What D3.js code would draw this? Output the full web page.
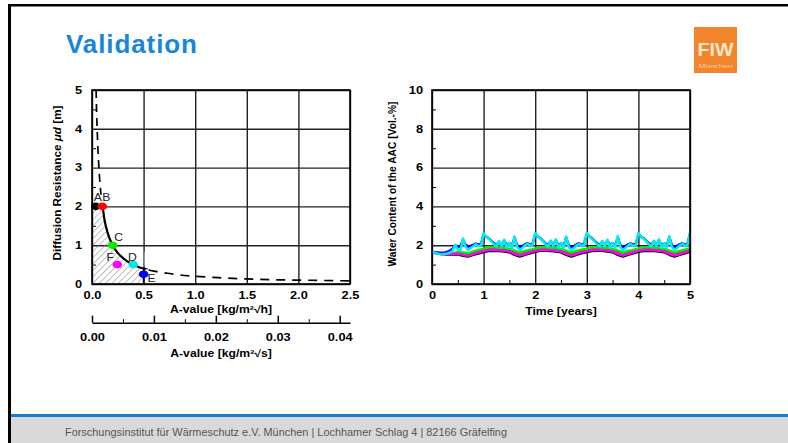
<!DOCTYPE html>
<html>
<head>
<meta charset="utf-8">
<script src="https://cdn.jsdelivr.net/npm/d3@7"></script>
<style>
body { margin: 0; background: #fff; }
svg text { font-family: "Liberation Sans", Arial, sans-serif; }
</style>
</head>
<body>
<div id="slide"></div>
<script>
// ---- datos del grafico izquierdo (criterio A-valor / sd) ----
var aTicks = [0, 0.5, 1, 1.5, 2, 2.5]
var muTicks = [0, 1, 2, 3, 4, 5]
var muMinor = [0.5, 1.5, 2.5, 3.5, 4.5]
var aSecTicks = [0, 0.01, 0.02, 0.03, 0.04]
var aSecMinor = [0.005, 0.015, 0.025, 0.035]
var hPerS = 60 // sqrt(3600)

var critUpper = [[0.04, 5], [0.044, 4.5], [0.05, 4], [0.057, 3.5], [0.067, 3], [0.08, 2.5], [0.087, 2.3]]
var critSolid = [[0, 2], [0.1, 2], [0.12, 1.67], [0.15, 1.33], [0.2, 1], [0.25, 0.8], [0.3, 0.67], [0.35, 0.57], [0.4, 0.5], [0.45, 0.44], [0.5, 0.4], [0.55, 0.36]]
var critLower = [[0.55, 0.36], [0.6, 0.33], [0.7, 0.29], [0.8, 0.25], [1.0, 0.2], [1.25, 0.16], [1.5, 0.13], [1.75, 0.11], [2.0, 0.1], [2.25, 0.09], [2.5, 0.08]]
var hatchLimit = 0.5

var caseNames = ['A', 'B', 'C', 'D', 'E', 'F']
var caseA = [0.036, 0.1, 0.2, 0.4, 0.5, 0.245]
var caseMu = [2, 2, 1, 0.5, 0.25, 0.5]
var caseColors = ['#000000', '#ff0000', '#00ee00', '#00e8e8', '#0000ff', '#ff00ff']

// ---- datos del grafico derecho (contenido de agua) ----
var yearTicks = [0, 1, 2, 3, 4, 5]
var yearMinor = [0.5, 1.5, 2.5, 3.5, 4.5]
var wcTicks = [0, 2, 4, 6, 8, 10]
var wcMinor = [1, 3, 5, 7, 9]
var stepFine = 0.05
var stepCoarse = 0.1

var wcBlack = [1.63, 1.58, 1.53, 1.52, 1.52, 1.53, 1.46, 1.42, 1.50, 1.57,
  1.65, 1.70, 1.72, 1.70, 1.68, 1.64, 1.50, 1.42, 1.50, 1.58,
  1.66, 1.71, 1.72, 1.70, 1.68, 1.63, 1.50, 1.42, 1.51, 1.58,
  1.65, 1.70, 1.72, 1.71, 1.68, 1.64, 1.50, 1.42, 1.50, 1.58,
  1.66, 1.70, 1.72, 1.70, 1.68, 1.64, 1.51, 1.42, 1.50, 1.58, 1.66]
var wcRed = [1.65, 1.60, 1.55, 1.55, 1.56, 1.60, 1.55, 1.50, 1.60, 1.66,
  1.74, 1.80, 1.80, 1.78, 1.76, 1.73, 1.62, 1.52, 1.60, 1.68,
  1.75, 1.80, 1.81, 1.78, 1.76, 1.72, 1.62, 1.52, 1.61, 1.68,
  1.74, 1.80, 1.80, 1.79, 1.76, 1.73, 1.62, 1.52, 1.60, 1.68,
  1.75, 1.80, 1.80, 1.78, 1.76, 1.73, 1.62, 1.52, 1.60, 1.68, 1.77]
var wcGreen = [1.66, 1.62, 1.57, 1.57, 1.58, 1.65, 1.62, 1.58, 1.68, 1.75,
  1.82, 1.88, 1.88, 1.86, 1.84, 1.82, 1.72, 1.62, 1.70, 1.76,
  1.83, 1.88, 1.89, 1.86, 1.84, 1.81, 1.72, 1.62, 1.70, 1.77,
  1.82, 1.88, 1.88, 1.86, 1.85, 1.82, 1.72, 1.61, 1.70, 1.76,
  1.83, 1.88, 1.88, 1.87, 1.84, 1.82, 1.72, 1.62, 1.70, 1.77, 1.84]
var wcMagenta = [1.64, 1.60, 1.55, 1.54, 1.55, 1.57, 1.50, 1.45, 1.54, 1.62,
  1.70, 1.75, 1.76, 1.74, 1.72, 1.68, 1.56, 1.47, 1.55, 1.63,
  1.71, 1.75, 1.76, 1.74, 1.72, 1.67, 1.56, 1.47, 1.56, 1.63,
  1.70, 1.75, 1.76, 1.75, 1.72, 1.68, 1.56, 1.46, 1.55, 1.63,
  1.71, 1.75, 1.76, 1.74, 1.72, 1.68, 1.56, 1.47, 1.55, 1.63, 1.72]
var wcBlue = [1.66, 1.64, 1.62, 1.61, 1.61, 1.63, 1.66, 1.72, 1.82, 2.00, 1.92, 1.95, 2.28, 2.02, 1.92, 1.96, 2.02, 2.08, 2.03, 2.06,
  2.55, 2.45, 2.35, 2.22, 2.10, 2.02, 2.18, 2.00, 2.24, 1.98, 2.10, 1.96, 2.38, 2.00, 1.90, 1.95, 2.04, 2.10, 2.02, 2.07,
  2.56, 2.45, 2.36, 2.22, 2.09, 2.01, 2.20, 2.00, 2.25, 1.97, 2.09, 1.95, 2.38, 2.00, 1.90, 1.95, 2.04, 2.10, 2.02, 2.07,
  2.57, 2.46, 2.35, 2.22, 2.10, 2.02, 2.18, 1.99, 2.24, 1.98, 2.10, 1.96, 2.40, 2.00, 1.89, 1.96, 2.04, 2.09, 2.03, 2.07,
  2.56, 2.45, 2.36, 2.23, 2.10, 2.02, 2.19, 2.00, 2.25, 1.98, 2.09, 1.96, 2.39, 2.00, 1.90, 1.96, 2.04, 2.10, 2.02, 2.07, 2.58]
var wcCyan = [1.65, 1.62, 1.58, 1.54, 1.52, 1.55, 1.58, 1.62, 1.72, 2.02, 1.78, 1.74, 2.35, 1.92, 1.76, 1.85, 1.95, 2.05, 1.95, 2.00,
  2.62, 2.45, 2.33, 2.20, 2.05, 1.95, 2.22, 1.95, 2.28, 1.88, 2.12, 1.85, 2.45, 1.90, 1.76, 1.86, 1.98, 2.08, 1.96, 2.02,
  2.62, 2.46, 2.34, 2.20, 2.04, 1.94, 2.24, 1.95, 2.30, 1.88, 2.10, 1.84, 2.45, 1.90, 1.76, 1.85, 1.98, 2.08, 1.95, 2.02,
  2.64, 2.46, 2.33, 2.20, 2.05, 1.95, 2.22, 1.94, 2.28, 1.88, 2.12, 1.85, 2.47, 1.90, 1.75, 1.86, 1.98, 2.07, 1.96, 2.02,
  2.63, 2.45, 2.34, 2.21, 2.05, 1.95, 2.23, 1.95, 2.30, 1.88, 2.10, 1.85, 2.46, 1.90, 1.76, 1.86, 1.98, 2.08, 1.95, 2.02, 2.65]

var seriesList = [
  {values: wcBlack, step: stepCoarse, color: '#000000'},
  {values: wcRed, step: stepCoarse, color: '#ff0000'},
  {values: wcGreen, step: stepCoarse, color: '#00ee00'},
  {values: wcMagenta, step: stepCoarse, color: '#ff00ff'},
  {values: wcBlue, step: stepFine, color: '#0000ff'},
  {values: wcCyan, step: stepFine, color: '#00eeee'}
]

// ---- lienzo ----
var W = 788, H = 443
var SX = 1.22 // los graficos estan estirados en horizontal

var svg = d3.select('#slide').append('svg')
  .attr('width', W)
  .attr('height', H)

svg.append('rect').attr('width', W).attr('height', H).attr('fill', '#fff')

// pie de pagina
svg.append('rect').attr('x', 10).attr('y', 417).attr('width', W - 10).attr('height', H - 417).attr('fill', '#d9d9d9')
svg.append('rect').attr('x', 10).attr('y', 414).attr('width', W - 10).attr('height', 3).attr('fill', '#1b7bd0')
svg.append('text')
  .attr('x', 65).attr('y', 436)
  .attr('font-size', 10)
  .attr('fill', '#555')
  .attr('textLength', 442)
  .attr('lengthAdjust', 'spacingAndGlyphs')
  .text('Forschungsinstitut für Wärmeschutz e.V. München | Lochhamer Schlag 4 | 82166 Gräfelfing')

// marco negro
svg.append('line').attr('x1', 9.5).attr('x2', 9.5).attr('y1', 4).attr('y2', H).attr('stroke', '#000').attr('stroke-width', 3)
svg.append('line').attr('x1', 8).attr('x2', W).attr('y1', 5.3).attr('y2', 5.3).attr('stroke', '#000').attr('stroke-width', 2.5)

// titulo
svg.append('text')
  .attr('x', 66).attr('y', 53)
  .attr('font-size', 26)
  .attr('font-weight', 'bold')
  .attr('fill', '#1a86d8')
  .attr('textLength', 131)
  .attr('lengthAdjust', 'spacing')
  .text('Validation')

// logo
var logo = svg.append('g').attr('transform', 'translate(694,27)')
logo.append('rect').attr('width', 43).attr('height', 46).attr('fill', '#f2842a')
logo.append('text').attr('x', 21.5).attr('y', 29).attr('text-anchor', 'middle')
  .attr('font-size', 18).attr('font-weight', 'bold').attr('fill', '#fde6cf')
  .attr('textLength', 36).attr('lengthAdjust', 'spacingAndGlyphs')
  .text('FIW')
logo.append('text').attr('x', 21.5).attr('y', 41).attr('text-anchor', 'middle')
  .attr('font-size', 6).attr('fill', '#fbd3ad').attr('textLength', 34).attr('lengthAdjust', 'spacingAndGlyphs')
  .text('München')

// estira el texto de los ejes
function stretchTicks(axisG, isLeft, pad) {
  axisG.selectAll('text')
    .attr('font-size', 10.5)
    .attr('font-weight', 'bold')
    .attr('fill', '#000')
    .attr('font-family', '"Liberation Sans", Arial, sans-serif')
    .attr('transform', 'scale(' + SX + ',1)')
  if (isLeft) axisG.selectAll('text').attr('x', -pad / SX)
  axisG.select('.domain').remove()
}

function stretchLabel(g, x, y, str) {
  return g.append('text')
    .attr('transform', 'translate(' + x + ',' + y + ') scale(' + SX + ',1)')
    .attr('text-anchor', 'middle')
    .attr('font-size', 10)
    .attr('font-weight', 'bold')
    .text(str)
}

// ============ grafico izquierdo ============
var L = {x0: 92, x1: 350, y0: 284, y1: 90}
var xL = d3.scaleLinear().domain([0, 2.5]).range([L.x0, L.x1])
var yL = d3.scaleLinear().domain([0, 5]).range([L.y0, L.y1])
var xS = d3.scaleLinear().domain([0, 2.5 / hPerS]).range([L.x0, L.x1])

var left = svg.append('g')

// rejilla
left.append('g')
  .attr('transform', 'translate(0,' + L.y0 + ')')
  .call(d3.axisBottom(xL).tickValues(aTicks).tickSize(-(L.y0 - L.y1)).tickFormat(''))
  .call(g => g.select('.domain').remove())
  .selectAll('line').attr('stroke', '#222').attr('stroke-width', 1.4)
left.append('g')
  .attr('transform', 'translate(' + L.x0 + ',0)')
  .call(d3.axisLeft(yL).tickValues(muTicks).tickSize(-(L.x1 - L.x0)).tickFormat(''))
  .call(g => g.select('.domain').remove())
  .selectAll('line').attr('stroke', '#222').attr('stroke-width', 1.4)
left.append('g')
  .attr('transform', 'translate(' + L.x0 + ',0)')
  .call(d3.axisLeft(yL).tickValues(muMinor).tickSize(-4).tickFormat(''))
  .call(g => g.select('.domain').remove())
  .selectAll('line').attr('stroke', '#000')

// zona rayada
var defs = svg.append('defs')
var pat = defs.append('pattern')
  .attr('id', 'hatch')
  .attr('patternUnits', 'userSpaceOnUse')
  .attr('width', 4.5).attr('height', 4.5)
  .attr('patternTransform', 'rotate(45)')
pat.append('line').attr('x1', 0).attr('y1', 0).attr('x2', 0).attr('y2', 4.5)
  .attr('stroke', '#8a8a8a').attr('stroke-width', 1.1)

var hatchPts = critSolid.filter(d => d[0] <= hatchLimit)
var hatchArea = d3.area()
  .x(d => xL(d[0]))
  .y0(yL(0))
  .y1(d => yL(d[1]))
  .curve(d3.curveMonotoneX)
left.append('path')
  .datum(hatchPts)
  .attr('d', hatchArea)
  .attr('fill', 'url(#hatch)')
left.append('line')
  .attr('x1', xL(hatchLimit)).attr('x2', xL(hatchLimit))
  .attr('y1', yL(0)).attr('y2', yL(0.4))
  .attr('stroke', '#000').attr('stroke-width', 1.6)

var critLine = d3.line()
  .x(d => xL(d[0]))
  .y(d => yL(d[1]))
  .curve(d3.curveMonotoneX)

left.append('path').datum(critSolid).attr('d', critLine)
  .attr('fill', 'none').attr('stroke', '#000').attr('stroke-width', 2.2)

// fondos blancos de las etiquetas D y E
left.append('rect').attr('x', xL(0.5) + 2).attr('y', yL(0.25) - 5).attr('width', 10).attr('height', 11).attr('fill', '#fff')
left.append('rect').attr('x', xL(0.5) + 1).attr('y', yL(0.75) - 3).attr('width', 4).attr('height', 14).attr('fill', '#fff')

var critDashed = d3.line()
  .x(d => xL(d[0]))
  .y(d => yL(d[1]))
  .curve(d3.curveMonotoneY)
left.append('path').datum(critUpper).attr('d', critDashed)
  .attr('fill', 'none').attr('stroke', '#000').attr('stroke-width', 1.7).attr('stroke-dasharray', '8,6')
left.append('path').datum(critLower).attr('d', critLine)
  .attr('fill', 'none').attr('stroke', '#000').attr('stroke-width', 1.7).attr('stroke-dasharray', '9,7')

// puntos de los casos
var cases = caseNames.map((n, i) => ({name: n, a: caseA[i], mu: caseMu[i], color: caseColors[i]}))
left.selectAll('ellipse.case')
  .data(cases)
  .enter()
  .append('ellipse')
  .attr('class', 'case')
  .attr('cx', d => xL(d.a))
  .attr('cy', d => yL(d.mu))
  .attr('rx', 4.8)
  .attr('ry', 3.8)
  .attr('fill', d => d.color)

// posicion de las etiquetas relativa al punto
var labelOffset = {A: [2, -9], B: [4, -9], C: [6, -8], D: [-1, -8], E: [8, 4], F: [-7, -8]}
left.selectAll('text.caselabel')
  .data(cases)
  .enter()
  .append('text')
  .attr('class', 'caselabel')
  .attr('transform', d => 'translate(' + (xL(d.a) + labelOffset[d.name][0]) + ',' + (yL(d.mu) + labelOffset[d.name][1] + 4) + ') scale(' + SX + ',1)')
  .attr('text-anchor', 'middle')
  .attr('font-size', 10)
  .attr('fill', '#222')
  .text(d => d.name)

// marco
left.append('rect')
  .attr('x', L.x0).attr('y', L.y1)
  .attr('width', L.x1 - L.x0).attr('height', L.y0 - L.y1)
  .attr('fill', 'none').attr('stroke', '#000').attr('stroke-width', 1.6)

// etiquetas de los ejes
var lxAxis = left.append('g').attr('transform', 'translate(0,' + L.y0 + ')')
  .call(d3.axisBottom(xL).tickValues(aTicks).tickSize(0).tickPadding(7.5).tickFormat(d3.format('.1f')))
stretchTicks(lxAxis, false)
var lyAxis = left.append('g').attr('transform', 'translate(' + L.x0 + ',0)')
  .call(d3.axisLeft(yL).tickValues(muTicks).tickSize(0).tickFormat(d3.format('d')))
stretchTicks(lyAxis, true, 10)

stretchLabel(left, (L.x0 + L.x1) / 2, 313, 'A-value [kg/m²√h]')

// segundo eje en kg/m2 s^0.5
var sAxis = left.append('g').attr('transform', 'translate(0,322.7)')
  .call(d3.axisBottom(xS).tickValues(aSecTicks).tickSizeInner(-7).tickSizeOuter(0).tickPadding(10.5).tickFormat(d3.format('.2f')))
sAxis.selectAll('text')
  .attr('font-size', 10.5).attr('font-weight', 'bold')
  .attr('transform', 'scale(' + SX + ',1)')
sAxis.select('.domain').attr('stroke-width', 1.5)
sAxis.selectAll('line').attr('stroke-width', 1.5)
left.append('g').attr('transform', 'translate(0,322.7)')
  .call(d3.axisBottom(xS).tickValues(aSecMinor).tickSize(-3.5).tickFormat(''))
  .call(g => g.select('.domain').remove())

stretchLabel(left, (L.x0 + L.x1) / 2, 357, 'A-value [kg/m²√s]')

var lTitle = left.append('text')
  .attr('transform', 'translate(61,183) rotate(-90) scale(1,1.15)')
  .attr('text-anchor', 'middle')
  .attr('font-size', 10)
  .attr('font-weight', 'bold')
  .attr('textLength', 155)
  .attr('lengthAdjust', 'spacingAndGlyphs')
lTitle.append('tspan').text('Diffusion Resistance ')
lTitle.append('tspan').attr('font-style', 'italic').text('μd')
lTitle.append('tspan').text(' [m]')

// ============ grafico derecho ============
var R = {x0: 432, x1: 690, y0: 284, y1: 90}
var xR = d3.scaleLinear().domain([0, 5]).range([R.x0, R.x1])
var yR = d3.scaleLinear().domain([0, 10]).range([R.y0, R.y1])

var right = svg.append('g')

right.append('g')
  .attr('transform', 'translate(0,' + R.y0 + ')')
  .call(d3.axisBottom(xR).tickValues(yearTicks).tickSize(-(R.y0 - R.y1)).tickFormat(''))
  .call(g => g.select('.domain').remove())
  .selectAll('line').attr('stroke', '#222').attr('stroke-width', 1.4)
right.append('g')
  .attr('transform', 'translate(' + R.x0 + ',0)')
  .call(d3.axisLeft(yR).tickValues(wcTicks).tickSize(-(R.x1 - R.x0)).tickFormat(''))
  .call(g => g.select('.domain').remove())
  .selectAll('line').attr('stroke', '#222').attr('stroke-width', 1.4)
right.append('g')
  .attr('transform', 'translate(' + R.x0 + ',0)')
  .call(d3.axisLeft(yR).tickValues(wcMinor).tickSize(-4).tickFormat(''))
  .call(g => g.select('.domain').remove())
right.append('g')
  .attr('transform', 'translate(0,' + R.y0 + ')')
  .call(d3.axisBottom(xR).tickValues(yearMinor).tickSize(-4).tickFormat(''))
  .call(g => g.select('.domain').remove())

defs.append('clipPath').attr('id', 'clipR')
  .append('rect')
  .attr('x', R.x0).attr('y', R.y1)
  .attr('width', R.x1 - R.x0).attr('height', R.y0 - R.y1)

var wcLine = d3.line()
  .x(d => xR(d.t))
  .y(d => yR(d.v))

right.append('g')
  .attr('clip-path', 'url(#clipR)')
  .selectAll('path')
  .data(seriesList)
  .enter()
  .append('path')
  .attr('d', s => wcLine(s.values.map((v, i) => ({t: i * s.step, v: v}))))
  .attr('fill', 'none')
  .attr('stroke', s => s.color)
  .attr('stroke-width', 2.5)
  .attr('stroke-linejoin', 'round')

right.append('rect')
  .attr('x', R.x0).attr('y', R.y1)
  .attr('width', R.x1 - R.x0).attr('height', R.y0 - R.y1)
  .attr('fill', 'none').attr('stroke', '#000').attr('stroke-width', 1.6)

var rxAxis = right.append('g').attr('transform', 'translate(0,' + R.y0 + ')')
  .call(d3.axisBottom(xR).tickValues(yearTicks).tickSize(0).tickPadding(7.5).tickFormat(d3.format('d')))
stretchTicks(rxAxis, false)
var ryAxis = right.append('g').attr('transform', 'translate(' + R.x0 + ',0)')
  .call(d3.axisLeft(yR).tickValues(wcTicks).tickSize(0).tickFormat(d3.format('d')))
stretchTicks(ryAxis, true, 9)

stretchLabel(right, (R.x0 + R.x1) / 2, 315, 'Time [years]')

right.append('text')
  .attr('transform', 'translate(396,184) rotate(-90) scale(1,1.15)')
  .attr('text-anchor', 'middle')
  .attr('font-size', 10)
  .attr('font-weight', 'bold')
  .attr('textLength', 165)
  .attr('lengthAdjust', 'spacingAndGlyphs')
  .text('Water Content of the AAC [Vol.-%]')
</script>
</body>
</html>
